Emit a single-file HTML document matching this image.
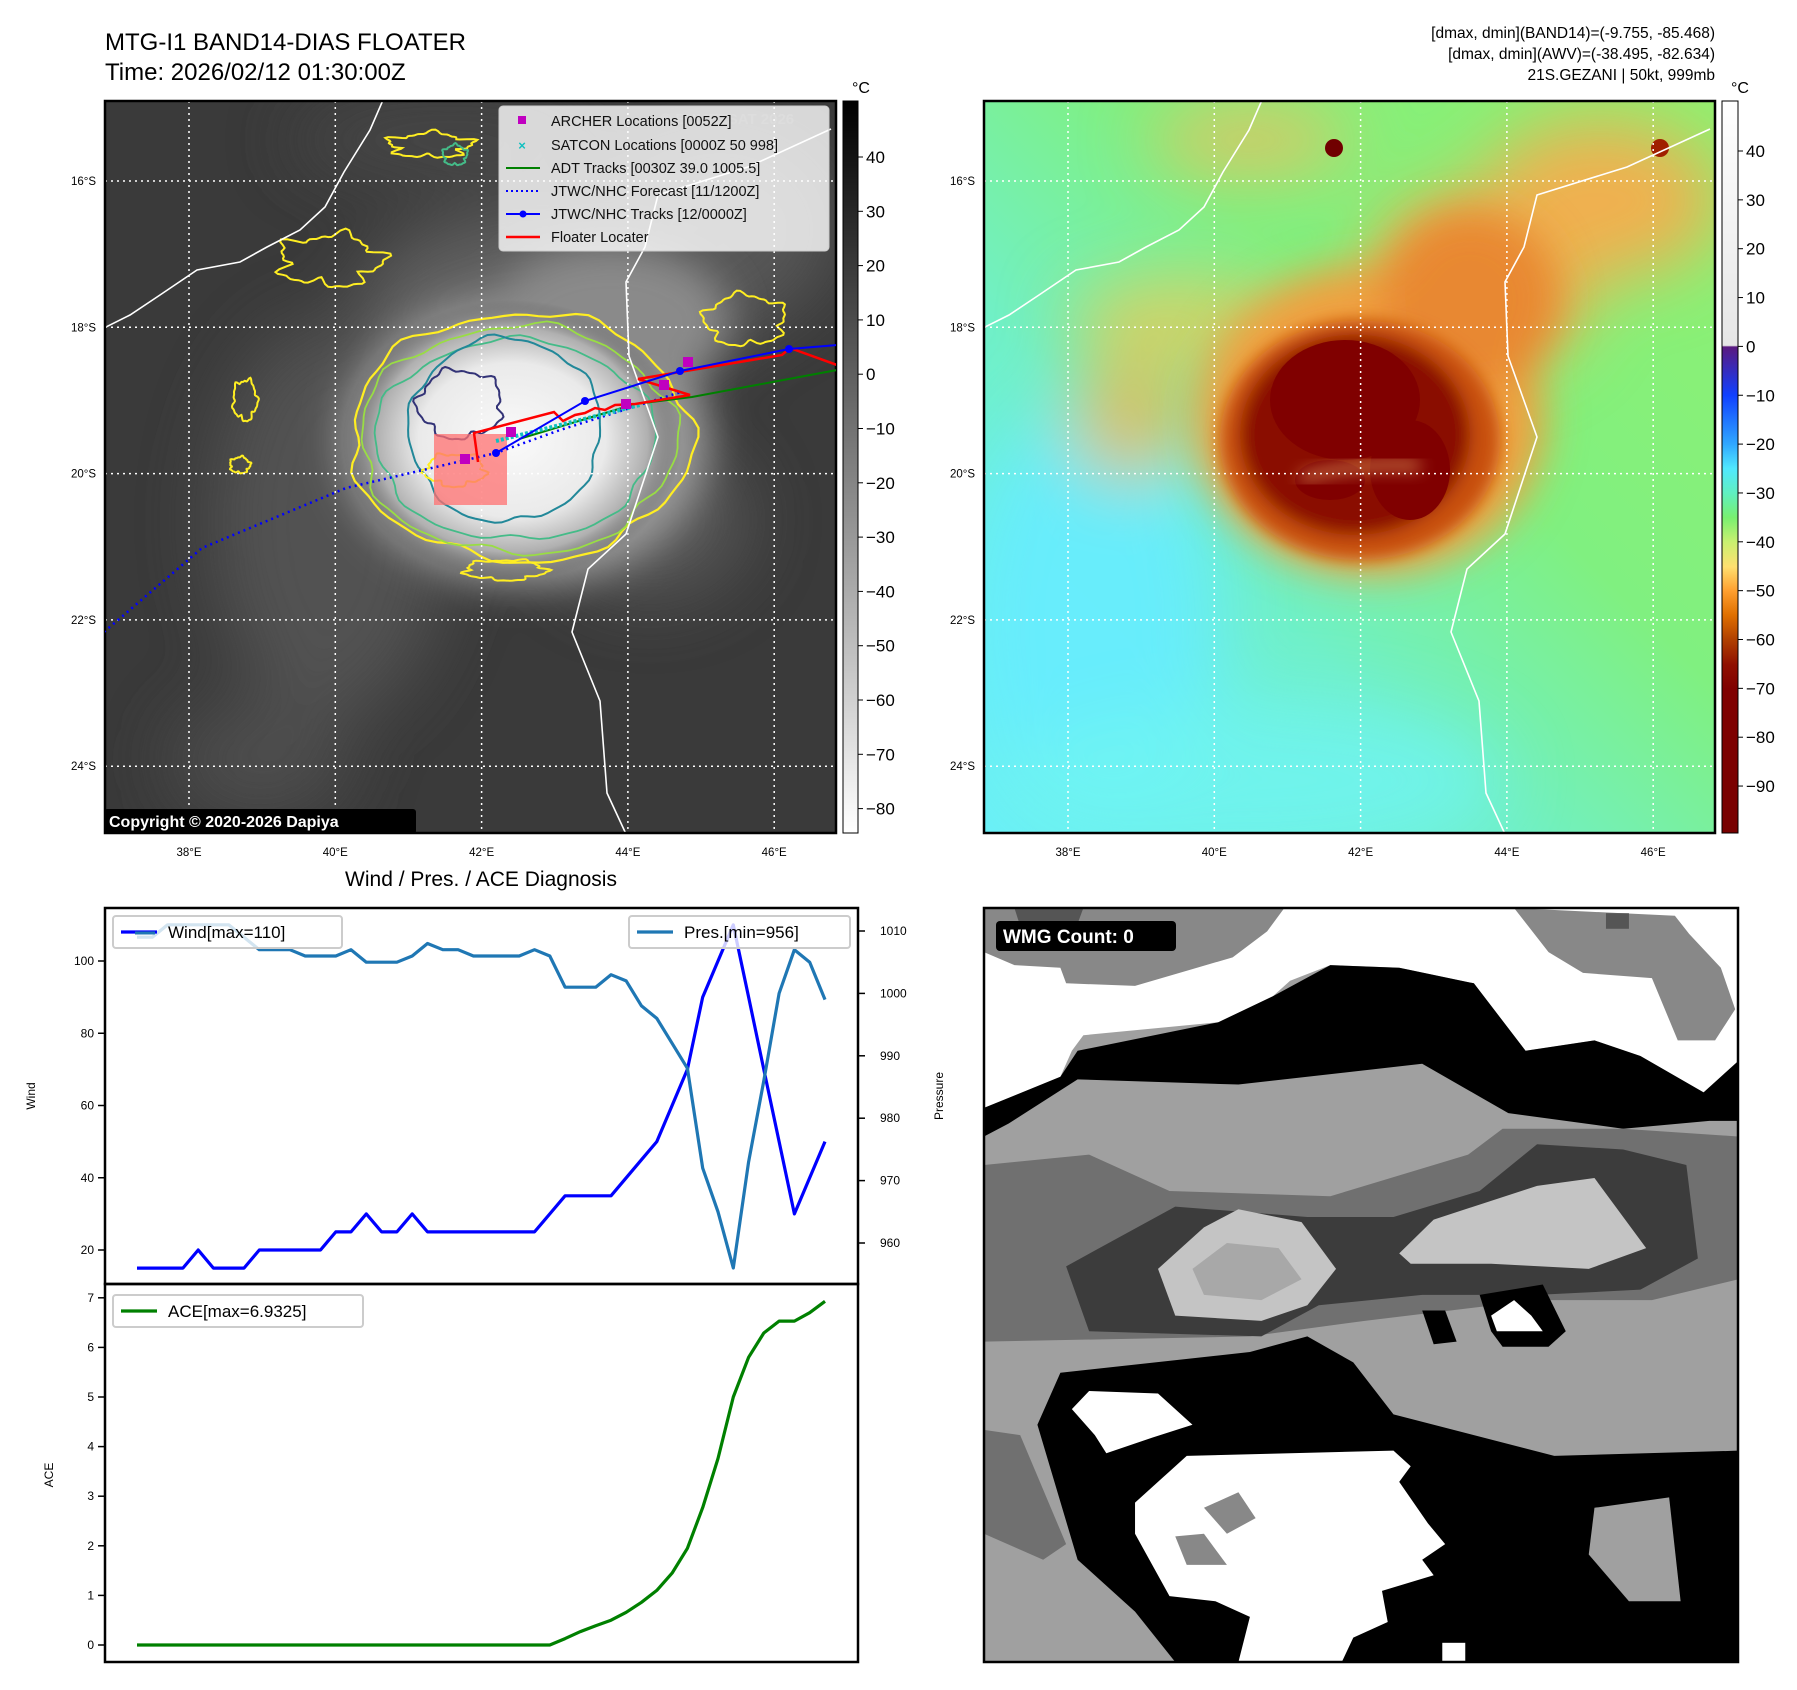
<!DOCTYPE html>
<html><head><meta charset="utf-8"><style>
html,body{margin:0;padding:0;background:#fff}
svg{display:block;font-family:"Liberation Sans","DejaVu Sans",sans-serif}
</style></head><body>
<svg id="root" width="1797" height="1690" viewBox="0 0 1797 1690" xmlns="http://www.w3.org/2000/svg">
<defs>
<filter id="b8" x="-50%" y="-50%" width="200%" height="200%"><feGaussianBlur stdDeviation="8"/></filter>
<filter id="b20" x="-50%" y="-50%" width="200%" height="200%"><feGaussianBlur stdDeviation="20"/></filter>
<filter id="b35" x="-50%" y="-50%" width="200%" height="200%"><feGaussianBlur stdDeviation="35"/></filter>
<clipPath id="clipL"><rect x="105" y="101" width="731" height="732"/></clipPath>
<clipPath id="clipR"><rect x="984" y="101" width="731" height="732"/></clipPath>
<clipPath id="clipW"><rect x="984" y="908" width="754" height="754"/></clipPath>
<linearGradient id="cbGray" x1="0" y1="0" x2="0" y2="1"><stop offset="0" stop-color="#000"/><stop offset="1" stop-color="#fff"/></linearGradient>
<linearGradient id="cbColor" x1="0" y1="0" x2="0" y2="1">
<stop offset="0" stop-color="#ffffff"/><stop offset="0.334" stop-color="#e6e6e6"/>
<stop offset="0.336" stop-color="#5a1a80"/><stop offset="0.402" stop-color="#1040ff"/>
<stop offset="0.469" stop-color="#30a8ff"/><stop offset="0.502" stop-color="#50e8ff"/>
<stop offset="0.536" stop-color="#60f0c0"/><stop offset="0.569" stop-color="#78f070"/>
<stop offset="0.602" stop-color="#c8f070"/><stop offset="0.636" stop-color="#ffe070"/>
<stop offset="0.669" stop-color="#ffa030"/><stop offset="0.702" stop-color="#e07000"/>
<stop offset="0.736" stop-color="#b04000"/><stop offset="0.77" stop-color="#901000"/>
<stop offset="0.803" stop-color="#800000"/><stop offset="1" stop-color="#780000"/></linearGradient>
<linearGradient id="rBase" x1="0" y1="1" x2="1" y2="0">
<stop offset="0" stop-color="#6af0f8"/><stop offset="0.35" stop-color="#70f0c8"/><stop offset="0.6" stop-color="#80f080"/><stop offset="1" stop-color="#90f070"/></linearGradient>
<radialGradient id="lCloud" cx="0.5" cy="0.5" r="0.5"><stop offset="0" stop-color="#fafafa"/><stop offset="0.55" stop-color="#eaeaea"/><stop offset="0.8" stop-color="#b0b0b0"/><stop offset="1" stop-color="#505050" stop-opacity="0"/></radialGradient>
</defs>

<text x="105" y="50" font-size="24">MTG-I1 BAND14-DIAS FLOATER</text>
<text x="105" y="80" font-size="24">Time: 2026/02/12 01:30:00Z</text>
<g font-size="15.5" text-anchor="end">
<text x="1715" y="38">[dmax, dmin](BAND14)=(-9.755, -85.468)</text>
<text x="1715" y="59">[dmax, dmin](AWV)=(-38.495, -82.634)</text>
<text x="1715" y="80">21S.GEZANI | 50kt, 999mb</text>
</g>

<g clip-path="url(#clipL)">
<rect x="105" y="101" width="731" height="732" fill="#3a3a3a"/>
<g filter="url(#b35)" opacity="0.9">
<ellipse cx="330" cy="520" rx="120" ry="200" fill="#555"/>
<ellipse cx="560" cy="300" rx="200" ry="90" fill="#666"/>
<ellipse cx="720" cy="230" rx="120" ry="100" fill="#5a5a5a"/>
<ellipse cx="260" cy="760" rx="90" ry="60" fill="#505050"/>
<ellipse cx="450" cy="140" rx="160" ry="40" fill="#4a4a4a"/>
<ellipse cx="650" cy="520" rx="100" ry="80" fill="#5a5a5a"/>
</g>
<g filter="url(#b20)">
<ellipse cx="525" cy="440" rx="185" ry="145" fill="#9a9a9a"/>
<ellipse cx="610" cy="320" rx="120" ry="75" fill="#8a8a8a"/>
</g>
<ellipse cx="512" cy="440" rx="170" ry="140" fill="url(#lCloud)"/>
<g id="contours" fill="none" stroke-width="2"></g>
</g>

<g clip-path="url(#clipR)">
<rect x="984" y="101" width="731" height="732" fill="url(#rBase)"/>
<g filter="url(#b35)">
<ellipse cx="1090" cy="620" rx="130" ry="220" fill="#66ecff" opacity="0.9"/>
<ellipse cx="1250" cy="780" rx="250" ry="80" fill="#70f4f0" opacity="0.8"/>
<ellipse cx="1600" cy="200" rx="120" ry="80" fill="#f0b050"/>
<ellipse cx="1250" cy="140" rx="100" ry="30" fill="#e8c060"/>
<ellipse cx="1480" cy="280" rx="110" ry="90" fill="#f0b050"/>
<ellipse cx="1180" cy="320" rx="110" ry="40" fill="#d8d060"/>
<ellipse cx="1130" cy="420" rx="60" ry="60" fill="#d8c060"/>
</g>
<g filter="url(#b20)">
<ellipse cx="1370" cy="420" rx="175" ry="155" fill="#f0a040"/>
<ellipse cx="1470" cy="300" rx="90" ry="90" fill="#e88830"/>
</g>
<g filter="url(#b8)">
<ellipse cx="1360" cy="440" rx="140" ry="120" fill="#c85010"/>
<ellipse cx="1355" cy="435" rx="115" ry="100" fill="#8a0c00"/>
</g>
<ellipse cx="1345" cy="400" rx="75" ry="60" fill="#800000"/>
<ellipse cx="1410" cy="470" rx="40" ry="50" fill="#800000"/>
<ellipse cx="1330" cy="480" rx="35" ry="20" fill="#800000"/>
<path d="M1300 478 Q1360 462 1420 466" stroke="#f8c070" stroke-width="6" fill="none" filter="url(#b8)"/>
<circle cx="1334" cy="148" r="9" fill="#700000"/>
<circle cx="1660" cy="148" r="9" fill="#a02000"/>
</g>

<g id="maps"></g>
<g clip-path="url(#clipL)" id="tracks"></g>

<g>
<rect x="499" y="106" width="330" height="145" rx="4" fill="#fff" fill-opacity="0.8" stroke="#ccc"/>
<text x="660" y="124" font-size="15" font-weight="bold" fill="#ddd">© EUMETSAT 2026</text>
<g font-size="14.5" fill="#111">
<rect x="518" y="116" width="8" height="8" fill="#c000c0"/><text x="551" y="126">ARCHER Locations [0052Z]</text>
<text x="522" y="150" font-size="13" fill="#10c0c0" text-anchor="middle" font-weight="bold">×</text><text x="551" y="150">SATCON Locations [0000Z 50 998]</text>
<line x1="506" y1="168" x2="540" y2="168" stroke="#008000" stroke-width="2"/><text x="551" y="173">ADT Tracks [0030Z 39.0 1005.5]</text>
<line x1="506" y1="191" x2="540" y2="191" stroke="#0000ff" stroke-width="2" stroke-dasharray="2,3"/><text x="551" y="196">JTWC/NHC Forecast [11/1200Z]</text>
<line x1="506" y1="214" x2="540" y2="214" stroke="#0000ff" stroke-width="2"/><circle cx="523" cy="214" r="3.5" fill="#0000ff"/><text x="551" y="219">JTWC/NHC Tracks [12/0000Z]</text>
<line x1="506" y1="237" x2="540" y2="237" stroke="#ff0000" stroke-width="2.5"/><text x="551" y="242">Floater Locater</text>
</g>
</g>
<g>
<rect x="104" y="809" width="312" height="25" rx="3" fill="#000"/>
<text x="109" y="827" font-size="16" font-weight="bold" fill="#fff">Copyright © 2020-2026 Dapiya</text>
</g>

<rect x="843" y="101" width="15" height="732" fill="url(#cbGray)" stroke="#000"/>
<rect x="1722" y="101" width="16" height="732" fill="url(#cbColor)" stroke="#000"/>
<text x="852" y="93" font-size="16">°C</text>
<text x="1731" y="93" font-size="16">°C</text>
<g id="cbticks" font-size="17"></g>

<text x="481" y="886" font-size="21" text-anchor="middle">Wind / Pres. / ACE Diagnosis</text>
<g id="chart"></g>

<g clip-path="url(#clipW)">
<g transform="translate(984,908) scale(0.5743,0.5193) translate(-137,-45)">
<rect x="137" y="45" width="1313" height="1452" fill="#a0a0a0"/>
<polygon fill="#fff" points="137,45 1450,45 1450,340 1390,400 1280,330 1200,300 1080,320 990,190 860,160 740,155 670,185 640,215 545,265 310,290 290,320 270,370 137,430"/>
<polygon fill="#888" points="137,45 660,45 630,90 570,140 400,195 280,190 270,160 190,155 137,130"/>
<polygon fill="#555" points="190,45 310,45 300,75 200,80"/>
<polygon fill="#888" points="1060,45 1340,60 1365,95 1420,160 1445,240 1410,300 1345,300 1300,180 1180,170 1120,130"/>
<rect x="1220" y="55" width="40" height="30" fill="#555"/>
<polygon fill="#000" points="137,430 270,370 300,320 545,265 640,215 740,155 860,160 990,190 1080,320 1200,300 1280,330 1390,400 1450,340 1450,455 1400,455 1250,470 1050,440 900,345 580,385 300,375 180,460 137,485"/>
<polygon fill="#707070" points="137,540 320,520 460,590 740,600 980,520 1040,470 1250,470 1450,485 1450,760 1300,800 1100,800 800,840 600,870 137,880"/>
<polygon fill="#3c3c3c" points="280,735 470,620 700,640 850,640 1000,590 1100,500 1250,510 1360,540 1380,720 1280,780 1100,790 900,790 720,810 620,870 320,860"/>
<polygon fill="#c4c4c4" points="440,740 520,660 580,625 690,650 750,740 700,810 620,840 470,830"/>
<polygon fill="#a8a8a8" points="500,740 560,690 650,700 690,760 620,800 520,790"/>
<polygon fill="#c4c4c4" points="860,710 920,645 1100,580 1200,565 1290,700 1190,740 1020,730 880,730"/>
<polygon fill="#000" points="1000,790 1110,770 1150,860 1120,890 1040,890 1020,860"/>
<polygon fill="#fff" points="1020,830 1060,800 1090,830 1110,860 1030,860"/>
<polygon fill="#000" points="900,820 940,820 960,880 920,885"/>
<polygon fill="#000" points="270,940 600,900 700,870 780,920 850,1020 1130,1100 1450,1090 1450,1497 470,1497 400,1400 300,1300 230,1040"/>
<polygon fill="#707070" points="137,1050 200,1060 280,1270 240,1300 137,1250"/>
<polygon fill="#a0a0a0" points="1200,1200 1330,1180 1350,1380 1260,1380 1190,1290"/>
<polygon fill="#a0a0a0" points="137,1420 300,1420 470,1497 137,1497"/>
<polygon fill="#fff" points="290,1010 320,975 440,980 500,1040 430,1065 350,1095 330,1060"/>
<polygon fill="#fff" points="400,1190 460,1130 490,1100 850,1090 880,1120 860,1150 910,1230 940,1270 900,1300 920,1330 830,1360 840,1420 780,1450 760,1497 580,1497 600,1410 540,1380 460,1370 400,1250"/>
<polygon fill="#888" points="520,1200 580,1170 610,1220 560,1250"/>
<polygon fill="#888" points="470,1255 520,1250 560,1310 490,1310"/>
<rect x="935" y="1460" width="40" height="37" fill="#fff"/>
</g>
</g>
<rect x="984" y="908" width="754" height="754" fill="none" stroke="#000" stroke-width="2.5"/>
<g>
<rect x="996" y="921" width="180" height="30" rx="4" fill="#000"/>
<text x="1003" y="943" font-size="19" font-weight="bold" fill="#fff">WMG Count: 0</text>
</g>
</svg>

<script>
const windVals = [15,15,15,15,20,15,15,15,20,20,20,20,20,25,25,30,25,25,30,25,25,25,25,25,25,25,25,30,35,35,35,35,40,45,50,60,70,90,100,110,90,70,50,30,40,50];
const presVals = [1009,1009,1011,1011,1011,1011,1011,1009,1007,1007,1007,1006,1006,1006,1007,1005,1005,1005,1006,1008,1007,1007,1006,1006,1006,1006,1007,1006,1001,1001,1001,1003,1002,998,996,992,988,972,965,956,973,986,1000,1007,1005,999];
const aceVals = [0,0,0,0,0,0,0,0,0,0,0,0,0,0,0,0,0,0,0,0,0,0,0,0,0,0,0,0,0.13,0.27,0.39,0.5,0.66,0.86,1.1,1.45,1.95,2.77,3.76,5.0,5.8,6.29,6.53,6.53,6.7,6.93];
const windTicks = [20,40,60,80,100];
const presTicks = [960,970,980,990,1000,1010];
const aceTicks = [0,1,2,3,4,5,6,7];
const grayCbTicks = [40,30,20,10,0,-10,-20,-30,-40,-50,-60,-70,-80];
const colorCbTicks = [40,30,20,10,0,-10,-20,-30,-40,-50,-60,-70,-80,-90];
const lonTicks = [38,40,42,44,46];
const latTicks = [-16,-18,-20,-22,-24];

const NS='http://www.w3.org/2000/svg';
function mk(tag, attrs, parent){const e=document.createElementNS(NS,tag);for(const k in attrs)e.setAttribute(k,attrs[k]);if(parent)parent.appendChild(e);return e;}
function fmt(v){return v<0?'\u2212'+Math.abs(v):String(v);}

const xIdx = i => 137 + i*(825-137)/(windVals.length-1);
const yWind = v => 961 + (100-v)*3.6125;
const yPres = v => 931 + (1010-v)*6.24;
const yAce = v => 1645 - v*49.6;

const chart=document.getElementById('chart');
let f1=mk('rect',{x:105,y:908,width:753,height:376,fill:'none',stroke:'#000','stroke-width':2.5},chart);


let f2=mk('rect',{x:105,y:1284,width:753,height:378,fill:'none',stroke:'#000','stroke-width':2.5},chart);


windTicks.forEach(v=>{const y=yWind(v);
 const t=mk('line',{x1:98,x2:105,y1:y,y2:y,stroke:'#000','stroke-width':1.5},chart);
 
 
 const l=mk('text',{x:94,y:y+4,'font-size':12,'text-anchor':'end'},chart);l.textContent=v;
 
 });
presTicks.forEach(v=>{const y=yPres(v);
 const t=mk('line',{x1:858,x2:865,y1:y,y2:y,stroke:'#000','stroke-width':1.5},chart);
 
 
 const l=mk('text',{x:880,y:y+4,'font-size':12},chart);l.textContent=v;
 
 });
aceTicks.forEach(v=>{const y=yAce(v);
 const t=mk('line',{x1:98,x2:105,y1:y,y2:y,stroke:'#000','stroke-width':1.5},chart);
 
 
 const l=mk('text',{x:94,y:y+4,'font-size':12,'text-anchor':'end'},chart);l.textContent=v;
 
 });
let yl=mk('text',{x:0,y:0,'font-size':12,'text-anchor':'middle',transform:'translate(35,1096) rotate(-90)'},chart);yl.textContent='Wind';


let yr=mk('text',{x:0,y:0,'font-size':12,'text-anchor':'middle',transform:'translate(943,1096) rotate(-90)'},chart);yr.textContent='Pressure';


let ya=mk('text',{x:0,y:0,'font-size':12,'text-anchor':'middle',transform:'translate(53,1475) rotate(-90)'},chart);ya.textContent='ACE';



function pts(arr,yf){return arr.map((v,i)=>xIdx(i).toFixed(1)+','+yf(v).toFixed(1)).join(' ');}
let wl=mk('polyline',{points:pts(windVals,yWind),fill:'none',stroke:'#0000ff','stroke-width':3.2,'stroke-linejoin':'round'},chart);


let pl=mk('polyline',{points:pts(presVals,yPres),fill:'none',stroke:'#1f77b4','stroke-width':3.2,'stroke-linejoin':'round'},chart);


let al=mk('polyline',{points:pts(aceVals,yAce),fill:'none',stroke:'#008000','stroke-width':3.2,'stroke-linejoin':'round'},chart);



function legend(x,y,w,color,label,name){
 const g=mk('g',{},chart);
 
 
 mk('rect',{x:x,y:y,width:w,height:32,rx:3,fill:'#fff','fill-opacity':0.8,stroke:'#ccc','stroke-width':2},g);
 mk('line',{x1:x+8,x2:x+44,y1:y+16,y2:y+16,stroke:color,'stroke-width':3.2},g);
 const t=mk('text',{x:x+55,y:y+22,'font-size':17},g);t.textContent=label;
}
legend(113,916,229,'#0000ff','Wind[max=110]','wind-legend');
let ov=mk('line',{x1:135,x2:155,y1:933,y2:933,stroke:'#1f77b4','stroke-width':3},chart);


legend(629,916,221,'#1f77b4','Pres.[min=956]','pressure-legend');
legend(113,1295,250,'#008000','ACE[max=6.9325]','ace-legend');

const cb=document.getElementById('cbticks');
grayCbTicks.forEach(v=>{const y=157+(40-v)*5.43;
 mk('line',{x1:858,x2:863,y1:y,y2:y,stroke:'#000'},cb);
 const l=mk('text',{x:866,y:y+6},cb);l.textContent=fmt(v);
 
 });
colorCbTicks.forEach(v=>{const y=151+(40-v)*4.885;
 mk('line',{x1:1738,x2:1743,y1:y,y2:y,stroke:'#000'},cb);
 const l=mk('text',{x:1746,y:y+6},cb);l.textContent=fmt(v);
 
 });

const lonX = (lon,off) => off + 189-105 + (lon-38)*73.15;
const latY = lat => 181 + (-16-lat)*73.15;
const coastE = [[831,129],[748,167],[658,195],[645,247],[626,282],[629,356],[658,437],[626,534],[588,569],[572,632],[600,701],[607,793],[626,834]];
const coastW = [[383,100],[370,130],[344,172],[325,207],[300,230],[267,247],[240,262],[197,270],[160,295],[130,315],[104,328]];
const maps=document.getElementById('maps');
[[105,'clipL','left'],[984,'clipR','right']].forEach(([off,clip,side])=>{
 const g=mk('g',{'clip-path':'url(#'+clip+')'},maps);
 
 
 const d=off-105;
 [coastE,coastW].forEach(c=>{
  const p=mk('polyline',{points:c.map(q=>(q[0]+d)+','+q[1]).join(' '),fill:'none',stroke:'#fff','stroke-width':1.6},g);
  
  
 });
 lonTicks.forEach(lon=>{const x=lonX(lon,off);
  mk('line',{x1:x,x2:x,y1:101,y2:833,stroke:'#fff','stroke-width':1.5,'stroke-dasharray':'2,4'},g);});
 latTicks.forEach(lat=>{const y=latY(lat);
  mk('line',{x1:off,x2:off+731,y1:y,y2:y,stroke:'#fff','stroke-width':1.5,'stroke-dasharray':'2,4'},g);});
 const lab=mk('g',{'font-size':11.5},maps);
 lonTicks.forEach(lon=>{const t=mk('text',{x:lonX(lon,off),y:856,'text-anchor':'middle'},lab);t.textContent=lon+'°E';
  
  });
 latTicks.forEach(lat=>{const t=mk('text',{x:off-9,y:latY(lat)+4,'text-anchor':'end'},lab);t.textContent=Math.abs(lat)+'°S';
  
  });
 const fr=mk('rect',{x:off,y:101,width:731,height:732,fill:'none',stroke:'#000','stroke-width':2.5},maps);
 
 
});

const cg=document.getElementById('contours');
function blob(cx,cy,rx,ry,seed,amp,color,w){
 let d='';const n=90;
 for(let k=0;k<=n;k++){const a=k/n*2*Math.PI;
  const r=1+amp*(Math.sin(a*5+seed)*0.5+Math.sin(a*11+seed*2)*0.3+Math.sin(a*17+seed*3)*0.2);
  const x=cx+rx*r*Math.cos(a),y=cy+ry*r*Math.sin(a);d+=(k?'L':'M')+x.toFixed(1)+' '+y.toFixed(1);}
 const p=mk('path',{d:d+'Z',stroke:color,'stroke-width':w||2,fill:'none'},cg);
 
 
}
blob(521,437,170,124,1,0.06,'#ffee22',2.2);
blob(518,440,158,114,2,0.06,'#99dd44',1.8);
blob(515,440,140,100,3,0.05,'#44bb88',1.8);
blob(505,430,96,92,4,0.05,'#228899',2);
blob(460,404,42,34,5,0.15,'#333377',2);
blob(455,470,30,16,6,0.2,'#ffee22',2);
blob(505,570,40,10,7,0.2,'#ffee22',2);
blob(330,260,50,25,8,0.3,'#ffee22',2);
blob(430,145,40,12,9,0.3,'#ffee22',2);
blob(245,400,12,20,1,0.2,'#ffee22',2);
blob(240,465,10,8,2,0.2,'#ffee22',2);
blob(455,155,12,10,3,0.2,'#44bb88',2);
blob(745,320,40,25,4,0.2,'#ffee22',2);

const tg=document.getElementById('tracks');
let rect=mk('rect',{x:434,y:434,width:73,height:71,fill:'#ff7070','fill-opacity':0.75},tg);


let fc=mk('polyline',{points:'104,632 202,548 346,488 496,453 560,430 681,392',fill:'none',stroke:'#0000ff','stroke-width':2.5,'stroke-dasharray':'2,4'},tg);


let adt=mk('polyline',{points:'519,439 635,404 692,397 837,370',fill:'none',stroke:'#008000','stroke-width':2},tg);


let sat=mk('line',{x1:496,y1:441,x2:640,y2:405,stroke:'#10c0c0','stroke-width':4,'stroke-dasharray':'3,2'},tg);


let fl=mk('polyline',{points:'478,462 474,433 554,412 563,421 575,415 585,413 595,408 605,410 615,405 635,404 690,395 638,379 782,355 790,348 837,365',fill:'none',stroke:'#ff0000','stroke-width':2.5},tg);


let jt=mk('polyline',{points:'496,453 585,401 680,371 789,349 837,345',fill:'none',stroke:'#0000ff','stroke-width':2},tg);


[[496,453],[585,401],[680,371],[789,349]].forEach(p=>{const c=mk('circle',{cx:p[0],cy:p[1],r:4,fill:'#0000ff'},tg);
 
 });
[[465,459],[511,432],[626,404],[664,385],[688,362]].forEach(p=>{const r=mk('rect',{x:p[0]-5,y:p[1]-5,width:10,height:10,fill:'#c000c0'},tg);
 
 });
</script>
</body></html>
